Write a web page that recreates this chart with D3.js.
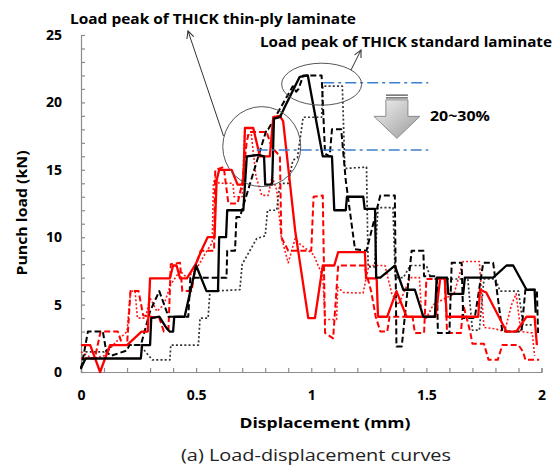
<!DOCTYPE html>
<html>
<head>
<meta charset="utf-8">
<script src="https://cdn.jsdelivr.net/npm/d3@7"></script>
<style>
  body { margin: 0; background: #fff; }
  svg { display: block; }
  text { font-family: "Open Sans", Lato, sans-serif; }
</style>
</head>
<body>
<svg id="chart" width="555" height="471"></svg>
<script>
// Axis ticks
const xTicks = [0, 0.5, 1, 1.5, 2];
const yTicks = [0, 5, 10, 15, 20, 25];

// Load-displacement curves, [displacement (mm), punch load (kN)]
const blackSolid = [[0,0.3],[0.02,1.0],[0.26,1.0],[0.265,2.0],[0.30,2.0],[0.305,4.0],[0.34,4.1],[0.37,3.3],[0.385,3.0],[0.40,3.0],[0.405,4.1],[0.45,4.1],[0.50,7.9],[0.545,6.0],[0.595,6.0],[0.60,10.0],[0.63,10.0],[0.635,12.0],[0.705,12.0],[0.72,16.0],[0.77,16.1],[0.795,16.0],[0.80,13.9],[0.83,13.9],[0.838,18.8],[0.864,18.9],[0.886,19.7],[0.95,21.9],[0.985,22.0],[1.05,16.0],[1.09,16.0],[1.10,12.0],[1.15,12.0],[1.155,13.0],[1.226,13.0],[1.232,12.1],[1.277,12.1],[1.282,7.0],[1.30,7.0],[1.363,7.9],[1.40,6.1],[1.45,6.1],[1.487,4.1],[1.537,4.1],[1.545,7.0],[1.59,7.0],[1.595,5.8],[1.66,5.8],[1.667,7.0],[1.79,7.0],[1.848,7.9],[1.877,7.9],[1.935,6.1],[1.97,6.1],[1.975,4.4]];

const blackDashed = [[0,0.2],[0.03,3.0],[0.095,3.0],[0.11,1.5],[0.13,1.2],[0.2,1.6],[0.21,2.0],[0.26,2.0],[0.30,4.5],[0.34,6.0],[0.38,4.1],[0.466,4.1],[0.475,7.0],[0.632,7.0],[0.635,9.0],[0.669,9.0],[0.675,11.5],[0.69,11.5],[0.806,18.0],[0.813,18.0],[0.84,18.8],[0.92,21.2],[0.935,20.8],[0.945,21.0],[0.965,22.0],[1.045,22.0],[1.06,16.2],[1.08,16.0],[1.09,18.0],[1.13,18.0],[1.15,14.2],[1.19,9.1],[1.24,9.0],[1.30,13.1],[1.363,13.1],[1.37,1.9],[1.393,1.9],[1.436,9.0],[1.487,9.0],[1.49,7.1],[1.545,7.1],[1.55,2.9],[1.60,2.9],[1.61,8.1],[1.653,8.1],[1.66,4.0],[1.71,4.0],[1.747,8.1],[1.79,8.1],[1.83,3.0],[1.913,3.0],[1.93,6.1],[1.98,6.1],[1.985,2.9]];

const blackDotted = [[0,0.3],[0.02,1.5],[0.10,1.5],[0.14,2.0],[0.256,2.0],[0.29,1.3],[0.31,0.9],[0.386,0.9],[0.39,2.0],[0.51,2.0],[0.517,4.0],[0.552,4.0],[0.56,6.0],[0.69,6.1],[0.70,8.0],[0.74,9.2],[0.763,9.9],[0.80,10.1],[0.81,12.0],[0.85,12.0],[0.864,14.0],[0.90,14.0],[0.92,15.7],[0.94,15.9],[0.965,18.9],[1.045,18.9],[1.05,21.2],[1.135,21.2],[1.146,15.1],[1.24,15.2],[1.247,7.8],[1.275,7.8],[1.29,12.2],[1.355,12.2],[1.365,7.0],[1.40,7.0],[1.43,7.9],[1.50,7.9],[1.52,6.9],[1.68,6.9],[1.70,3.1],[1.73,3.1],[1.75,6.9],[1.80,6.9],[1.82,6.0],[1.90,6.0],[1.92,3.5],[1.97,3.5]];

const redSolid = [[0,2.0],[0.04,2.0],[0.083,0],[0.126,2.0],[0.20,2.0],[0.263,3.0],[0.29,3.0],[0.30,6.95],[0.386,6.95],[0.40,7.9],[0.415,7.9],[0.43,6.95],[0.46,6.95],[0.50,8.06],[0.524,9.05],[0.55,10.0],[0.58,10.0],[0.589,14.2],[0.60,15.0],[0.654,15.0],[0.68,13.9],[0.705,13.9],[0.712,18.1],[0.748,18.1],[0.777,16.0],[0.82,16.0],[0.835,18.9],[0.864,19.0],[0.878,18.6],[0.93,10.5],[0.987,4.0],[1.016,4.0],[1.05,7.9],[1.10,7.9],[1.117,8.9],[1.233,8.9],[1.238,6.95],[1.284,6.95],[1.29,4.1],[1.33,4.1],[1.37,6.0],[1.414,4.1],[1.54,4.1],[1.56,6.95],[1.58,6.95],[1.588,4.1],[1.725,4.1],[1.733,6.1],[1.76,5.9],[1.848,3.0],[1.89,3.0],[1.935,4.1],[1.97,4.1],[1.98,2.0]];

const redDashed = [[0,1.0],[0.06,1.0],[0.085,3.0],[0.16,3.0],[0.18,2.0],[0.20,2.0],[0.215,6.0],[0.25,6.0],[0.27,4.2],[0.34,4.0],[0.36,3.0],[0.38,3.2],[0.39,8.0],[0.43,8.1],[0.44,6.0],[0.48,6.0],[0.50,8.0],[0.52,9.0],[0.578,9.0],[0.583,15.0],[0.62,15.2],[0.64,12.5],[0.68,12.5],[0.70,14.0],[0.72,17.1],[0.73,17.8],[0.806,17.8],[0.828,16.7],[0.864,16.0],[0.87,10.0],[0.90,9.0],[1.00,9.0],[1.01,13.0],[1.05,13.1],[1.06,2.9],[1.095,2.5],[1.117,7.9],[1.23,7.9],[1.26,6.0],[1.28,4.1],[1.30,3.0],[1.33,3.0],[1.34,4.1],[1.44,4.1],[1.45,2.9],[1.49,2.9],[1.50,6.9],[1.58,6.9],[1.59,2.9],[1.65,2.9],[1.66,5.0],[1.69,3.0],[1.70,2.1],[1.75,2.1],[1.77,0.9],[1.81,0.9],[1.83,2.0],[1.90,2.0],[1.92,1.5],[1.93,0.9],[1.99,0.9]];

const redDotted = [[0,1.5],[0.05,1.0],[0.10,1.2],[0.15,2.2],[0.20,3.0],[0.215,6.0],[0.235,6.0],[0.245,4.0],[0.28,4.0],[0.30,5.5],[0.33,4.5],[0.36,5.0],[0.39,6.5],[0.43,7.5],[0.46,7.0],[0.50,7.6],[0.54,8.8],[0.57,9.6],[0.575,14.0],[0.585,14.5],[0.60,14.0],[0.66,14.0],[0.665,13.0],[0.70,13.0],[0.71,17.5],[0.74,17.6],[0.76,14.5],[0.785,13.1],[0.813,13.1],[0.83,14.5],[0.85,13.5],[0.87,10.0],[0.90,8.1],[0.93,9.9],[0.95,9.5],[1.01,8.7],[1.05,7.1],[1.06,3.9],[1.11,3.9],[1.115,6.3],[1.14,5.9],[1.225,5.85],[1.25,7.9],[1.32,7.9],[1.35,5.8],[1.38,5.0],[1.43,7.0],[1.47,7.0],[1.48,4.1],[1.50,4.0],[1.53,5.0],[1.62,5.8],[1.66,8.2],[1.73,8.2],[1.75,3.3],[1.80,3.2],[1.84,3.0],[1.87,5.0],[1.89,5.8],[1.91,3.0],[1.96,2.9],[1.97,1.2]];

// Peak load reference levels (kN) and their displacement spans
const peakLevels = [21.46, 16.47];
const peakStarts = [1.052, 0.763];
const peakEnd = 1.508;

const svg = d3.select("#chart");
const x = d3.scaleLinear().domain([0, 2]).range([81, 541.5]);
const y = d3.scaleLinear().domain([0, 25]).range([372, 35]);
const axisColor = "#8c8c8c";

// Minor ticks every 0.1 mm and every 1 kN, pointing inward
svg.append("g")
  .attr("transform", `translate(0,${y(0)})`)
  .call(d3.axisBottom(x).tickValues(d3.range(0, 2.0001, 0.1)).tickSize(-4).tickFormat(""))
  .call(g => g.selectAll("line,path").attr("stroke", axisColor).attr("stroke-width", 1.2));
svg.append("g")
  .attr("transform", `translate(${x(0)},0)`)
  .call(d3.axisLeft(y).tickValues(d3.range(0, 26, 1)).tickSize(-4).tickFormat(""))
  .call(g => g.selectAll("line,path").attr("stroke", axisColor).attr("stroke-width", 1.2));

// Tick labels
svg.append("g")
  .attr("transform", `translate(0,${y(0)})`)
  .call(d3.axisBottom(x).tickValues(xTicks).tickSize(0).tickPadding(18).tickFormat(d => d))
  .call(g => g.select(".domain").remove())
  .call(g => g.selectAll("text").attr("font-family", "Open Sans").attr("font-weight", 700).attr("font-size", 14).attr("fill", "#000"));
svg.append("g")
  .attr("transform", `translate(${x(0)},0)`)
  .call(d3.axisLeft(y).tickValues(yTicks).tickSize(0).tickPadding(19).tickFormat(d => d))
  .call(g => g.select(".domain").remove())
  .call(g => g.selectAll("text").attr("font-family", "Open Sans").attr("font-weight", 700).attr("font-size", 14).attr("fill", "#000"));

// Curves
const line = d3.line().x(d => x(d[0])).y(d => y(d[1]));
const series = [
  { data: redDotted,   color: "#ff1a1a", width: 1.6, dash: "2,2" },
  { data: blackDotted, color: "#333",    width: 1.7, dash: "2,2.2" },
  { data: redDashed,   color: "#ff0000", width: 2.0, dash: "6,3" },
  { data: blackDashed, color: "#000",    width: 2.0, dash: "6,3" },
  { data: redSolid,    color: "#ff0000", width: 2.3, dash: null },
  { data: blackSolid,  color: "#000",    width: 2.3, dash: null }
];
svg.append("g").selectAll("path")
  .data(series)
  .join("path")
  .attr("d", s => line(s.data))
  .attr("fill", "none")
  .attr("stroke", s => s.color)
  .attr("stroke-width", s => s.width)
  .attr("stroke-dasharray", s => s.dash)
  .attr("stroke-linejoin", "round");

// Peak reference lines (dash-dot)
svg.append("g").selectAll("line")
  .data(peakLevels)
  .join("line")
  .attr("x1", (d, i) => x(peakStarts[i]))
  .attr("x2", x(peakEnd))
  .attr("y1", d => y(d))
  .attr("y2", d => y(d))
  .attr("stroke", "#3b7fcf")
  .attr("stroke-width", 1.4)
  .attr("stroke-dasharray", "11,4,3,4");

// Highlight ellipses around the load peaks
const ann = svg.append("g").attr("fill", "none").attr("stroke", "#555").attr("stroke-width", 1);
ann.append("ellipse").attr("cx", x(0.785)).attr("cy", y(16.72)).attr("rx", 39).attr("ry", 40);
ann.append("ellipse").attr("cx", x(1.045)).attr("cy", y(21.35)).attr("rx", 40).attr("ry", 21);

// Leader arrows to the annotation labels
svg.append("defs").append("marker")
  .attr("id", "openArrow").attr("viewBox", "0 0 10 10").attr("refX", 9).attr("refY", 5)
  .attr("markerWidth", 9).attr("markerHeight", 9).attr("orient", "auto").attr("markerUnits", "userSpaceOnUse")
  .append("path").attr("d", "M1,1 L9,5 L1,9").attr("fill", "none").attr("stroke", "#333").attr("stroke-width", 1.2);
ann.append("line").attr("x1", 223.5).attr("y1", 136).attr("x2", 188).attr("y2", 31)
  .attr("stroke", "#333").attr("marker-end", "url(#openArrow)");
ann.append("line").attr("x1", 351).attr("y1", 70).attr("x2", 361).attr("y2", 50)
  .attr("stroke", "#333").attr("marker-end", "url(#openArrow)");

// Block arrow showing the peak-load drop
const defs = svg.select("defs");
const grad = defs.append("linearGradient").attr("id", "arrowFill").attr("x1", 0).attr("y1", 0).attr("x2", 1).attr("y2", 1);
grad.append("stop").attr("offset", "0%").attr("stop-color", "#f2f2f2");
grad.append("stop").attr("offset", "100%").attr("stop-color", "#9a9a9a");
const ax = x(1.372), aTop = y(20.3);
const arrow = svg.append("g").attr("transform", `translate(${ax},${aTop})`);
arrow.append("rect").attr("x", -11).attr("y", -4).attr("width", 22).attr("height", 1.6).attr("fill", "#777");
arrow.append("rect").attr("x", -11).attr("y", -1.3).attr("width", 22).attr("height", 1.6).attr("fill", "#777");
arrow.append("path")
  .attr("d", "M-11,1.5 H11 V18 H23 L0,40 L-23,18 H-11 Z")
  .attr("fill", "url(#arrowFill)").attr("stroke", "#8a8a8a").attr("stroke-width", 1);

// Text
function label(txt, px, py, size, weight, width, anchor = "start") {
  return svg.append("text").attr("x", px).attr("y", py).attr("font-size", size)
    .attr("font-weight", weight).attr("fill", "#000").attr("text-anchor", anchor)
    .attr("textLength", width).attr("lengthAdjust", "spacingAndGlyphs").text(txt);
}
label("Load peak of THICK thin-ply laminate", 70, 24, 15, 700, 286);
label("Load peak of THICK standard laminate", 260, 47, 15, 700, 292);
label("20~30%", 430, 121, 15, 700, 60);
label("Displacement (mm)", 325, 428, 15, 700, 171, "middle");
label("(a) Load-displacement curves", 316, 461, 16.5, 400, 270, "middle").attr("fill", "#222");
svg.append("text")
  .attr("transform", "translate(27,213) rotate(-90)")
  .attr("text-anchor", "middle").attr("font-size", 15).attr("font-weight", 700).attr("fill", "#000")
  .attr("textLength", 125).attr("lengthAdjust", "spacingAndGlyphs")
  .text("Punch load (kN)");
</script>
</body>
</html>
